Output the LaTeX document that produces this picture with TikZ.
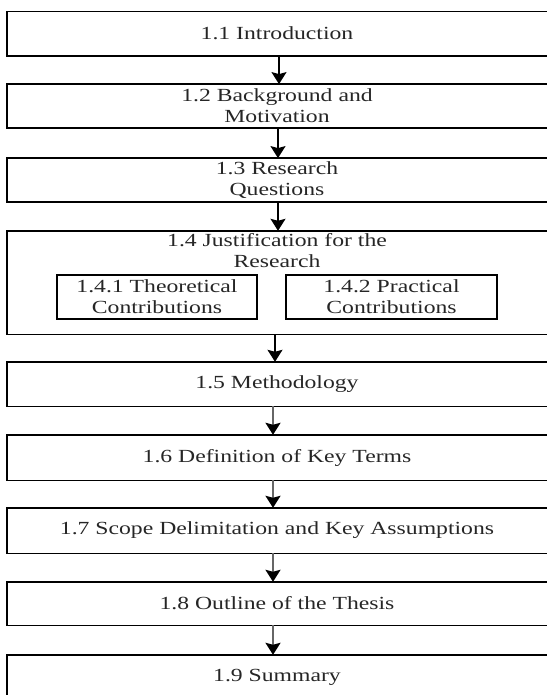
\documentclass[tikz,border=0pt]{standalone}
\usepackage{fontspec}
\setmainfont{Liberation Serif}[FakeStretch=1.28]
\usetikzlibrary{arrows.meta}
\begin{document}
\begin{tikzpicture}[x=1pt,y=-1pt,
  txt/.style={inner sep=0pt,align=center,text=black!85,
    font=\fontsize{18.5}{21}\selectfont},
  wide/.style={txt,minimum width=540pt},
  frame/.style={draw=black,line width=1.4pt},
  sub/.style={txt,draw=black,line width=1.2pt},
  tip/.style={-{Stealth[length=12pt,width=15pt,inset=2pt,color=black]}},
  arr/.style={line width=1.6pt,draw=black,tip},
  arrg/.style={line width=2.2pt,draw=black!60,tip}]
\useasboundingbox (0,0) rectangle (546,695);

% chapter sections (boxes run on past the right edge of the page)
\node[wide,minimum height=44pt] (s11) at (277,33.7) {1.1 Introduction};
\node[wide,minimum height=43.4pt] (s12) at (277,106) {1.2 Background and\\Motivation};
\node[wide,minimum height=43.4pt] (s13) at (277,180) {1.3 Research\\Questions};
\node[wide,minimum height=103pt] (s14) at (277,282.5) {};
\node[txt,anchor=north] (s14t) at (277,233.5) {1.4 Justification for the\\Research};
\node[sub,minimum width=200pt,minimum height=44pt] (s141) at (157,297) {1.4.1 Theoretical\\Contributions};
\node[sub,minimum width=211pt,minimum height=44pt] (s142) at (391.5,297) {1.4.2 Practical\\Contributions};
\node[wide,minimum height=44pt] (s15) at (277,384) {1.5 Methodology};
\node[wide,minimum height=45pt] (s16) at (277,457.5) {1.6 Definition of Key Terms};
\node[wide,minimum height=45pt] (s17) at (277,530.5) {1.7 Scope Delimitation and Key Assumptions};
\node[wide,minimum height=43pt] (s18) at (277,603.5) {1.8 Outline of the Thesis};
\node[wide,minimum height=44pt] (s19) at (277,677) {1.9 Summary};

\foreach \n in {s11,s12,s13,s14,s15,s16,s17,s18,s19}
  \draw[frame] (\n.south west) rectangle ([xshift=14pt]\n.north east);

% flow between sections
\draw[arr] ([xshift=2pt]s11.south) -- ([xshift=2pt]s12.north);
\draw[arr] ([xshift=1pt]s12.south) -- ([xshift=1pt]s13.north);
\draw[arr] ([xshift=1pt]s13.south) -- ([xshift=1pt]s14.north);
\draw[arr] ([xshift=-2pt]s14.south) -- ([xshift=-2pt]s15.north);
\draw[arrg] ([xshift=-4pt]s15.south) -- ([xshift=-4pt]s16.north);
\draw[arrg] ([xshift=-4pt]s16.south) -- ([xshift=-4pt]s17.north);
\draw[arrg] ([xshift=-4pt]s17.south) -- ([xshift=-4pt]s18.north);
\draw[arrg] ([xshift=-4pt]s18.south) -- ([xshift=-4pt]s19.north);
\end{tikzpicture}
\end{document}
